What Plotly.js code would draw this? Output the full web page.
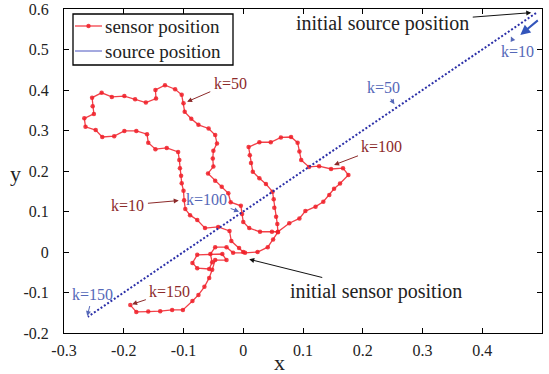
<!DOCTYPE html>
<html>
<head>
<meta charset="utf-8">
<script src="https://cdn.plot.ly/plotly-3.0.1.min.js"></script>
<style>html,body{margin:0;padding:0;background:#fff;}#chart{width:549px;height:374px;}</style>
</head>
<body>
<div id="chart"></div>
<script>
// Sensor trajectory (k = 0 ... end)
const sensorX = [0, -0.007, -0.020, -0.023, -0.042, -0.064, -0.077, -0.089, -0.097, -0.099,
  -0.100, -0.103, -0.104, -0.106, -0.107, -0.109, -0.128, -0.147, -0.159, -0.161,
  -0.179, -0.199, -0.216, -0.236, -0.247, -0.264, -0.266, -0.250, -0.252, -0.253,
  -0.237, -0.220, -0.199, -0.181, -0.163, -0.146, -0.147, -0.131, -0.114, -0.103,
  -0.100, -0.098, -0.087, -0.075, -0.058, -0.047, -0.044, -0.050, -0.051, -0.050,
  -0.059, -0.047, -0.036, -0.025, -0.021, -0.004, -0.002, 0.000, 0.010, 0.028,
  0.048, 0.058, 0.077, 0.094, 0.104, 0.121, 0.134, 0.144, 0.152, 0.162,
  0.176, 0.167, 0.147, 0.127, 0.110, 0.097, 0.094, 0.091, 0.080, 0.063,
  0.046, 0.027, 0.009, 0.011, 0.013, 0.016, 0.027, 0.038, 0.049, 0.051,
  0.052, 0.055, 0.057, 0.058, 0.050, 0.041, 0.024, 0.003, -0.017, -0.028,
  -0.047, -0.055, -0.052, -0.057, -0.077, -0.085, -0.077, -0.035, -0.028, -0.047,
  -0.052, -0.057, -0.065, -0.075, -0.085, -0.101, -0.119, -0.139, -0.159, -0.179,
  -0.189];
const sensorY = [0, 0.010, 0.027, 0.052, 0.062, 0.059, 0.079, 0.091, 0.106, 0.128,
  0.151, 0.170, 0.188, 0.207, 0.227, 0.247, 0.257, 0.254, 0.270, 0.291,
  0.299, 0.299, 0.286, 0.284, 0.301, 0.309, 0.330, 0.341, 0.360, 0.381,
  0.393, 0.383, 0.385, 0.377, 0.369, 0.379, 0.400, 0.412, 0.402, 0.388,
  0.367, 0.346, 0.329, 0.314, 0.305, 0.289, 0.268, 0.250, 0.231, 0.211,
  0.194, 0.176, 0.161, 0.145, 0.123, 0.114, 0.094, 0.074, 0.059, 0.050,
  0.050, 0.050, 0.071, 0.083, 0.101, 0.112, 0.124, 0.141, 0.156, 0.169,
  0.190, 0.207, 0.205, 0.212, 0.210, 0.227, 0.248, 0.270, 0.284, 0.283,
  0.271, 0.271, 0.259, 0.239, 0.220, 0.198, 0.182, 0.168, 0.149, 0.130,
  0.109, 0.087, 0.069, 0.049, 0.031, 0.012, 0.000, -0.002, -0.002, 0.012,
  0.012, -0.005, -0.025, -0.042, -0.040, -0.027, -0.007, -0.005, -0.020, -0.020,
  -0.044, -0.064, -0.086, -0.106, -0.121, -0.143, -0.143, -0.146, -0.147, -0.148,
  -0.131];

// Source positions read at k = 0, 10, 50, 100, 150
const sourceX = [0.49, 0.44, 0.24, -0.01, -0.26];
const sourceY = [0.59, 0.54, 0.34, 0.09, -0.16];

const xTickVals = [-0.3, -0.2, -0.1, 0, 0.1, 0.2, 0.3, 0.4, 0.5];
const xTickText = ['-0.3', '-0.2', '-0.1', '0', '0.1', '0.2', '0.3', '0.4', '0.5'];
const yTickVals = [-0.2, -0.1, 0, 0.1, 0.2, 0.3, 0.4, 0.5, 0.6];
const yTickText = ['-0.2', '-0.1', '0', '0.1', '0.2', '0.3', '0.4', '0.5', '0.6'];

const legendNames = ['sensor position', 'source position'];

const FONT = '"Liberation Serif", "DejaVu Serif", serif';
const RED = 'rgba(240,30,40,0.85)';
const RED_TXT = '#8c2a2a';
const BLUE_TXT = '#5568b8';
const BLUE = '#2b2fa8';

const traces = [
  {
    x: sensorX, y: sensorY, type: 'scatter', mode: 'lines+markers',
    name: legendNames[0],
    line: {color: RED, width: 1.3},
    marker: {color: RED, size: 4.5}
  },
  {
    x: sourceX, y: sourceY, type: 'scatter', mode: 'lines',
    name: legendNames[1],
    line: {color: BLUE, width: 2, dash: '2px,2px'}
  }
];

function ann(text, x, y, ax, ay, color, size, acolor) {
  return {text: text, x: x, y: y, ax: ax, ay: ay, xref: 'x', yref: 'y', axref: 'x', ayref: 'y',
    showarrow: true, arrowhead: 2, arrowsize: 1, arrowwidth: 1, arrowcolor: acolor || color,
    font: {family: FONT, size: size, color: color}, standoff: 0, startstandoff: 2};
}

// pixel helpers for paper positioning of the hand-made legend and axis titles
const PL = 64, PR = 542, PT = 9, PB = 333;
const px = v => (v - PL) / (PR - PL);
const py = v => (PB - v) / (PB - PT);

const annotations = [
  ann('k=50', -0.094, 0.371, -0.022, 0.417, RED_TXT, 16),
  ann('k=100', 0.152, 0.215, 0.232, 0.260, RED_TXT, 16),
  ann('k=10', -0.108, 0.127, -0.193, 0.116, RED_TXT, 16),
  ann('k=150', -0.186, -0.129, -0.123, -0.098, RED_TXT, 16),
  ann('k=50', 0.253, 0.365, 0.234, 0.407, BLUE_TXT, 16),
  ann('k=10', 0.448, 0.532, 0.459, 0.495, BLUE_TXT, 16),
  ann('k=100', -0.007, 0.0995, -0.061, 0.130, BLUE_TXT, 16),
  ann('k=150', -0.261, -0.158, -0.252, -0.104, BLUE_TXT, 16),
  ann('initial source position', 0.482, 0.591, 0.2335, 0.563, '#222', 20, '#111'),
  ann('initial sensor position', 0.010, -0.018, 0.2226, -0.0963, '#222', 20, '#111'),
  {text: '', x: 0.4637, y: 0.5358, ax: 0.4955, ay: 0.575, xref: 'x', yref: 'y', axref: 'x', ayref: 'y',
    showarrow: true, arrowhead: 2, arrowsize: 1, arrowwidth: 2, arrowcolor: '#3355bb'},
  // axis titles
  {text: 'x', xref: 'paper', yref: 'paper', x: px(279), y: py(362),
    showarrow: false, xanchor: 'center', yanchor: 'middle', font: {family: FONT, size: 22, color: '#222'}},
  {text: 'y', xref: 'paper', yref: 'paper', x: px(15), y: py(173),
    showarrow: false, xanchor: 'center', yanchor: 'middle', font: {family: FONT, size: 22, color: '#222'}},
  // legend texts
  {text: legendNames[0], xref: 'paper', yref: 'paper', x: px(103), y: py(26),
    showarrow: false, xanchor: 'left', yanchor: 'middle', font: {family: FONT, size: 19, color: '#222'}},
  {text: legendNames[1], xref: 'paper', yref: 'paper', x: px(103), y: py(51),
    showarrow: false, xanchor: 'left', yanchor: 'middle', font: {family: FONT, size: 19, color: '#222'}}
];

const shapes = [
  {type: 'rect', xref: 'paper', yref: 'paper', x0: px(73), x1: px(233), y0: py(65), y1: py(14),
    line: {color: '#000', width: 1.3}, fillcolor: '#fff', layer: 'above'},
  {type: 'line', xref: 'paper', yref: 'paper', x0: px(75), x1: px(102), y0: py(26), y1: py(26),
    line: {color: RED, width: 1.3}, layer: 'above'},
  {type: 'circle', xref: 'paper', yref: 'paper', x0: px(86.3), x1: px(90.7), y0: py(28.2), y1: py(23.8),
    line: {color: RED, width: 0}, fillcolor: RED, layer: 'above'},
  {type: 'line', xref: 'paper', yref: 'paper', x0: px(75), x1: px(102), y0: py(51), y1: py(51),
    line: {color: '#4a55c0', width: 1}, layer: 'above'}
];

const axisCommon = {
  showgrid: false, zeroline: false, showline: true, linecolor: '#000', linewidth: 1,
  mirror: 'ticks', ticks: 'inside', ticklen: 5, tickcolor: '#000', tickwidth: 1,
  tickmode: 'array', tickfont: {family: FONT, size: 16, color: '#222'}
};

const layout = {
  width: 549, height: 374,
  margin: {l: PL, r: 549 - PR, t: PT, b: 374 - PB},
  paper_bgcolor: '#fff', plot_bgcolor: '#fff',
  font: {family: FONT},
  showlegend: false,
  xaxis: Object.assign({}, axisCommon, {range: [-0.3, 0.5], tickvals: xTickVals, ticktext: xTickText,
    ticklabelstandoff: 3}),
  yaxis: Object.assign({}, axisCommon, {range: [-0.2, 0.6], tickvals: yTickVals, ticktext: yTickText,
    ticklabelstandoff: 11}),
  shapes: shapes,
  annotations: annotations
};

Plotly.newPlot('chart', traces, layout, {displayModeBar: false, staticPlot: true});
</script>
</body>
</html>
